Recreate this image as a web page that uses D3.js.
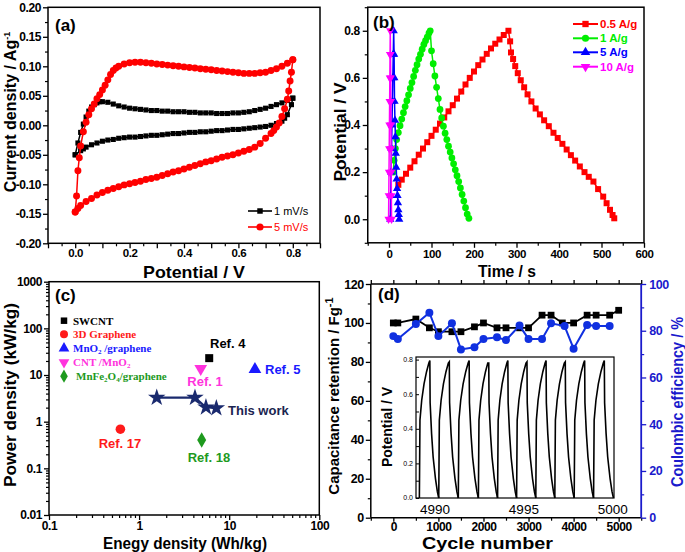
<!DOCTYPE html>
<html><head><meta charset="utf-8">
<script src="https://cdn.jsdelivr.net/npm/d3@7"></script>
<style>body{margin:0;background:#fff}svg{display:block}</style></head>
<body><svg id="chart" width="685" height="552"></svg>
<script>
// ---------------- DATA ----------------
// (a) CV curves, [potential V, current A/g]
const cv1Forward = [[0,-0.05],[0.01,-0.03],[0.02,-0.012],[0.03,0.002],[0.04,0.014],[0.05,0.024],[0.06,0.031],[0.07,0.035],[0.08,0.038],[0.09,0.04],[0.1,0.04],[0.12,0.039],[0.14,0.036],[0.16,0.033],[0.18,0.031],[0.2,0.029],[0.22,0.028],[0.24,0.027],[0.26,0.026],[0.28,0.025],[0.3,0.025],[0.32,0.024],[0.34,0.024],[0.36,0.023],[0.38,0.023],[0.4,0.023],[0.42,0.022],[0.44,0.022],[0.46,0.021],[0.48,0.021],[0.5,0.021],[0.52,0.02],[0.54,0.02],[0.56,0.02],[0.58,0.021],[0.6,0.021],[0.62,0.022],[0.64,0.023],[0.66,0.025],[0.68,0.027],[0.7,0.029],[0.72,0.032],[0.74,0.035],[0.76,0.038],[0.78,0.042],[0.8,0.046]];
const cv1Reverse = [[0.8,0.046],[0.795,0.035],[0.78,0.018],[0.77,0.012],[0.76,0.007],[0.74,0.003],[0.72,0.0],[0.7,-0.002],[0.68,-0.003],[0.66,-0.004],[0.64,-0.005],[0.62,-0.006],[0.6,-0.007],[0.58,-0.007],[0.56,-0.008],[0.54,-0.009],[0.52,-0.009],[0.5,-0.01],[0.48,-0.011],[0.46,-0.011],[0.44,-0.012],[0.42,-0.012],[0.4,-0.013],[0.38,-0.014],[0.36,-0.014],[0.34,-0.015],[0.32,-0.016],[0.3,-0.017],[0.28,-0.017],[0.26,-0.018],[0.24,-0.019],[0.22,-0.02],[0.2,-0.02],[0.18,-0.021],[0.16,-0.022],[0.14,-0.024],[0.12,-0.025],[0.1,-0.027],[0.08,-0.03],[0.06,-0.033],[0.04,-0.037],[0.03,-0.04],[0.02,-0.043],[0,-0.05]];
const cv5Forward = [[0,-0.147],[0.005,-0.12],[0.01,-0.077],[0.015,-0.055],[0.02,-0.035],[0.03,-0.011],[0.04,0.005],[0.05,0.018],[0.06,0.028],[0.07,0.036],[0.08,0.045],[0.09,0.052],[0.1,0.06],[0.11,0.068],[0.12,0.077],[0.13,0.086],[0.14,0.093],[0.15,0.097],[0.16,0.1],[0.18,0.104],[0.2,0.106],[0.22,0.107],[0.24,0.107],[0.26,0.106],[0.28,0.105],[0.3,0.104],[0.32,0.103],[0.34,0.102],[0.36,0.101],[0.38,0.1],[0.4,0.099],[0.42,0.098],[0.44,0.097],[0.46,0.096],[0.48,0.095],[0.5,0.094],[0.52,0.093],[0.54,0.092],[0.56,0.091],[0.58,0.09],[0.6,0.089],[0.62,0.088],[0.64,0.088],[0.66,0.088],[0.68,0.089],[0.7,0.09],[0.72,0.093],[0.74,0.096],[0.76,0.1],[0.78,0.105],[0.8,0.111]];
const cv5Reverse = [[0.8,0.111],[0.795,0.09],[0.79,0.075],[0.785,0.058],[0.78,0.044],[0.77,0.028],[0.76,0.015],[0.75,0.004],[0.74,-0.003],[0.73,-0.009],[0.72,-0.014],[0.7,-0.022],[0.68,-0.031],[0.66,-0.037],[0.64,-0.041],[0.62,-0.044],[0.6,-0.047],[0.58,-0.05],[0.56,-0.052],[0.54,-0.054],[0.52,-0.057],[0.5,-0.06],[0.48,-0.062],[0.46,-0.065],[0.44,-0.068],[0.42,-0.071],[0.4,-0.074],[0.38,-0.077],[0.36,-0.079],[0.34,-0.082],[0.32,-0.085],[0.3,-0.088],[0.28,-0.09],[0.26,-0.092],[0.24,-0.095],[0.22,-0.097],[0.2,-0.099],[0.18,-0.101],[0.16,-0.104],[0.14,-0.107],[0.12,-0.11],[0.1,-0.114],[0.08,-0.118],[0.06,-0.124],[0.04,-0.129],[0.02,-0.136],[0.01,-0.141],[0,-0.147]];
const aXTicks = [-0.1,0,0.1,0.2,0.3,0.4,0.5,0.6,0.7,0.8,0.9];
const aXLabels = ["","0.0","","0.2","","0.4","","0.6","","0.8",""];
const aYTicks = [-0.2,-0.15,-0.1,-0.05,0,0.05,0.1,0.15,0.2];
const aYLabels = ["-0.20","-0.15","-0.10","-0.05","0.00","0.05","0.10","0.15","0.20"];

// (b) galvanostatic charge/discharge, [time s, potential V]
const gcd05 = [[22,0.146],[30,0.168],[40,0.193],[50,0.219],[60,0.246],[70,0.274],[80,0.3],[90,0.327],[100,0.354],[110,0.38],[120,0.406],[130,0.432],[140,0.458],[150,0.484],[160,0.512],[170,0.542],[180,0.572],[190,0.6],[200,0.627],[210,0.654],[220,0.678],[230,0.702],[240,0.725],[250,0.745],[260,0.763],[270,0.782],[281,0.8],[285,0.755],[287,0.708],[292,0.68],[297,0.65],[303,0.62],[310,0.59],[318,0.56],[326,0.53],[335,0.5],[345,0.47],[355,0.445],[365,0.42],[376,0.395],[387,0.367],[397,0.345],[408,0.32],[418,0.296],[428,0.272],[438,0.249],[449,0.224],[460,0.2],[470,0.18],[481,0.16],[492,0.128],[504,0.096],[512,0.068],[520,0.04],[526,0.018],[530,0.004]];
const gcd1 = [[10,0.2],[12,0.25],[15,0.3],[18,0.338],[22,0.368],[26,0.397],[30,0.425],[34,0.452],[38,0.478],[42,0.503],[46,0.528],[50,0.555],[54,0.58],[58,0.606],[62,0.632],[66,0.656],[70,0.68],[74,0.7],[78,0.722],[82,0.742],[86,0.758],[90,0.773],[94,0.79],[97,0.8],[100,0.715],[104,0.66],[108,0.608],[112,0.56],[116,0.512],[120,0.466],[124,0.43],[128,0.395],[132,0.365],[136,0.338],[140,0.31],[144,0.285],[148,0.26],[152,0.235],[156,0.21],[160,0.185],[164,0.16],[168,0.133],[172,0.105],[176,0.077],[180,0.049],[184,0.022],[188,0.004]];
const gcd5 = [[3,0],[4,0.1],[5,0.2],[6,0.3],[7,0.4],[8,0.5],[9,0.6],[10,0.7],[11,0.8],[12,0.7],[12.5,0.6],[13,0.5],[14,0.42],[15,0.35],[16,0.28],[17,0.22],[18,0.17],[19,0.13],[20,0.1],[21,0.07],[22,0.04],[23,0.02],[24,0]];
const gcd10 = [[-1,0],[-0.5,0.1],[0,0.2],[0.5,0.3],[1,0.4],[1.5,0.5],[2,0.6],[2.5,0.7],[3,0.8],[3.5,0.7],[4,0.6],[4.3,0.5],[4.6,0.4],[5,0.3],[5.3,0.2],[5.6,0.1],[6,0]];
const bLegend = ["0.5 A/g","1 A/g","5 A/g","10 A/g"];
const bXTicks = [0,100,200,300,400,500,600];
const bYTicks = [0,0.2,0.4,0.6,0.8];

// (c) Ragone plot
const refEnergy = [6.0, 0.62, 19.3, 4.83, 4.95];
const refPower  = [23, 0.69, 13.3, 13.7, 0.405];
const refLabels = ["Ref. 4","Ref. 17","Ref. 5","Ref. 1","Ref. 18"];
const refNames  = ["SWCNT","3D Graphene","MnO2 /graphene","CNT /MnO2","MnFe2O4/graphene"];
const thisWorkEnergy = [1.57, 4.17, 5.52, 7.2];
const thisWorkPower  = [3.27, 3.27, 2.04, 1.95];
const cXTicks = [0.1,1,10,100];
const cXLabels = ["0.1","1","10","100"];
const cYTicks = [0.01,0.1,1,10,100,1000];
const cYLabels = ["0.01","0.1","1","10","100","1000"];

// (d) cycling
const retCycles = [0,100,500,800,1000,1300,1500,1800,2000,2300,2500,2800,3000,3300,3500,3750,4000,4300,4500,4800,5000];
const retention = [100,100,102,97.5,95.5,95.5,95.5,98,100,97.5,97.5,97.5,97.5,104,104,100,100,104,104,104,106.5];
const effCycles = [0,100,500,800,1000,1300,1500,1800,2000,2300,2500,2800,3000,3300,3500,3800,4000,4300,4500,4800];
const efficiency = [77.7,76.5,82.9,87.7,77.7,83.2,72,72.9,76.5,77.2,76,82.2,76.5,76.5,83.2,82,72.3,82.5,82,82];
const dXTicks = [0,1000,2000,3000,4000,5000];
const dYLeftTicks = [0,20,40,60,80,100,120];
const dYRightTicks = [0,20,40,60,80,100];
// inset: cycle boundaries (V = 0), peak potentials, and the shape of one cycle
const insetMinima = [4989.12,4990.21,4991.31,4992.44,4993.52,4994.59,4995.67,4996.74,4997.83,4998.92,5000.04];
const insetPeaks = [0.795,0.787,0.795,0.78,0.795,0.787,0.795,0.787,0.795,0.795];
const cyclePhase = [0,0.03,0.12,0.24,0.37,0.49,0.54,0.555,0.63,0.71,0.83,0.93,1.0];
const cycleV     = [0,0.45,0.565,0.66,0.73,0.78,null,0.55,0.372,0.237,0.112,0.035,0];
const insetXTicks = [4990,4995,5000];
const insetYTicks = [0,0.2,0.4,0.6,0.8];

// ---------------- DRAWING ----------------
const svg = d3.select("#chart");
svg.append("rect").attr("width",685).attr("height",552).attr("fill","#fff");
const FONT = "'Liberation Sans', Arial, Helvetica, sans-serif";
const SERIF = "'Liberation Serif', 'Times New Roman', serif";

function axis(g, scale, orient, pos, major, labels, minor, opt={}) {
  const color = opt.color || "#000";
  const mk = {bottom:d3.axisBottom, top:d3.axisTop, left:d3.axisLeft, right:d3.axisRight}[orient];
  const tr = (orient==="bottom"||orient==="top") ? `translate(0,${pos})` : `translate(${pos},0)`;
  if (minor && minor.length) {
    const gm = g.append("g").attr("transform",tr)
      .call(mk(scale).tickValues(minor).tickSize(opt.minorLen||3).tickFormat(""));
    gm.select(".domain").remove();
    gm.selectAll("line").attr("stroke",color).attr("stroke-width",1.2);
  }
  const ga = g.append("g").attr("transform",tr)
    .call(mk(scale).tickValues(major).tickSize(opt.majorLen||5).tickPadding(opt.pad||3)
      .tickFormat((d,i)=> labels ? labels[i] : ""));
  ga.select(".domain").remove();
  ga.selectAll("line").attr("stroke",color).attr("stroke-width",1.3);
  ga.selectAll("text").attr("fill",color).style("font-family",FONT)
    .style("font-size",(opt.fs||12)+"px").style("font-weight",opt.weight||"bold")
    .style("letter-spacing",(opt.ls!==undefined?opt.ls:-0.4)+"px");
  return ga;
}
function frame(g, x0, y0, x1, y1) {
  g.append("rect").attr("x",x0).attr("y",y0).attr("width",x1-x0).attr("height",y1-y0)
    .attr("fill","none").attr("stroke","#000").attr("stroke-width",1.5);
}
function markers(g, pts, sx, sy, type, size, color, rot) {
  const sym = d3.symbol().type(type).size(size);
  g.selectAll(null).data(pts).enter().append("path").attr("d",sym)
    .attr("transform",d=>`translate(${sx(d[0])},${sy(d[1])})${rot?" rotate(180)":""}`)
    .attr("fill",color);
}
function lineOf(g, pts, sx, sy, color, w) {
  g.append("path").datum(pts).attr("fill","none").attr("stroke",color).attr("stroke-width",w||1.4)
    .attr("d",d3.line().x(d=>sx(d[0])).y(d=>sy(d[1])));
}
function title(g, txt, x, y, size, opts={}) {
  const t = g.append("text").attr("transform",`translate(${x},${y})${opts.rot?" rotate(-90)":""}`)
    .attr("text-anchor",opts.anchor||"middle").attr("dy","0.35em")
    .style("font-family",opts.family||FONT).style("font-weight",opts.weight||"bold")
    .style("font-size",size+"px").attr("fill",opts.color||"#000");
  if (opts.len) t.attr("textLength",opts.len).attr("lengthAdjust","spacingAndGlyphs");
  return t.text(txt);
}

// ===== Panel (a) =====
{
  const g = svg.append("g");
  const x = d3.scaleLinear().domain([-0.1,0.9]).range([48,320]);
  const y = d3.scaleLinear().domain([-0.2,0.2]).range([243.3,7.3]);
  lineOf(g, cv1Forward.concat(cv1Reverse), x, y, "#000", 1.5);
  markers(g, cv1Forward.concat(cv1Reverse), x, y, d3.symbolSquare, 26, "#000");
  lineOf(g, cv5Forward.concat(cv5Reverse), x, y, "#ff0000", 1.5);
  markers(g, cv5Forward.concat(cv5Reverse), x, y, d3.symbolCircle, 38, "#ff0000");
  const xMinor = [-0.05,0.05,0.15,0.25,0.35,0.45,0.55,0.65,0.75,0.85];
  const yMinor = [-0.175,-0.125,-0.075,-0.025,0.025,0.075,0.125,0.175];
  axis(g, x, "bottom", 243.3, aXTicks, aXLabels, xMinor, {pad:1, fs:11.5});
  axis(g, y, "left", 48, aYTicks, aYLabels, yMinor, {pad:2});
  frame(g, 48, 7.3, 320, 243.3);
  const ly = [211, 227], lc = ["#000","#ff0000"], ln = ["1 mV/s","5 mV/s"];
  [0,1].forEach(i=>{
    g.append("line").attr("x1",248).attr("x2",272).attr("y1",ly[i]).attr("y2",ly[i]).attr("stroke",lc[i]).attr("stroke-width",1.6);
    g.append("path").attr("d",d3.symbol().type(i?d3.symbolCircle:d3.symbolSquare).size(i?40:30)())
      .attr("transform",`translate(260,${ly[i]})`).attr("fill",lc[i]);
    g.append("text").attr("x",274).attr("y",ly[i]).attr("dy","0.35em").text(ln[i])
      .style("font-family",FONT).style("font-size","11px").attr("fill",lc[i]);
  });
  title(g,"(a)",55,25,17,{anchor:"start"});
  const yt = g.append("text").attr("transform","translate(10.5,112) rotate(-90)").attr("text-anchor","middle")
    .attr("dy","0.35em").style("font-family",FONT).style("font-weight","bold").style("font-size","16px");
  yt.append("tspan").text("Current density / Ag");
  yt.append("tspan").attr("dy","-6").style("font-size","9px").text("-1");
  title(g,"Potential / V",194,272,17,{len:102});
}

// ===== Panel (b) =====
{
  const g = svg.append("g");
  const x = d3.scaleLinear().domain([-50,600]).range([367.75,644]);
  const y = d3.scaleLinear().domain([-0.1,0.9]).range([242.8,7.2]);
  const series = [
    {d:gcd05, c:"#ff0000", t:d3.symbolSquare, s:36, r:false},
    {d:gcd1,  c:"#00ee00", t:d3.symbolCircle, s:36, r:false},
    {d:gcd5,  c:"#0000ff", t:d3.symbolTriangle, s:30, r:false},
    {d:gcd10, c:"#ff00ff", t:d3.symbolTriangle, s:30, r:true}];
  series.forEach(s=>{ lineOf(g, s.d, x, y, s.c, 1.5); markers(g, s.d, x, y, s.t, s.s, s.c, s.r); });
  axis(g, x, "bottom", 242.8, bXTicks, bXTicks.map(String), [-50,50,150,250,350,450,550], {pad:2, fs:11.5});
  axis(g, y, "left", 367.75, bYTicks, bYTicks.map(v=>v.toFixed(1)), [-0.1,0.1,0.3,0.5,0.7,0.9], {pad:3});
  frame(g, 367.75, 7.2, 644, 242.8);
  const ly = [24,38.3,52.3,66.7];
  series.forEach((s,i)=>{
    g.append("line").attr("x1",573).attr("x2",598).attr("y1",ly[i]).attr("y2",ly[i]).attr("stroke",s.c).attr("stroke-width",2);
    g.append("path").attr("d",d3.symbol().type(s.t).size(40)()).attr("fill",s.c)
      .attr("transform",`translate(585.5,${ly[i]})${s.r?" rotate(180)":""}`);
    g.append("text").attr("x",600).attr("y",ly[i]).attr("dy","0.35em").text(bLegend[i])
      .style("font-family",FONT).style("font-weight","bold").style("font-size","11.5px").attr("fill",s.c);
  });
  title(g,"(b)",373,22,17,{anchor:"start"});
  title(g,"Potential / V",340,132,17,{rot:true,len:99});
  title(g,"Time / s",507,271,17,{len:58});
}

// ===== Panel (c) =====
{
  const g = svg.append("g");
  const x = d3.scaleLog().domain([0.1,100]).range([49,319.3]);
  const y = d3.scaleLog().domain([0.01,1000]).range([515,281.7]);
  const minorX = [], minorY = [];
  [0.1,1,10].forEach(b=>{ for(let k=2;k<10;k++) minorX.push(b*k); });
  [0.01,0.1,1,10,100].forEach(b=>{ for(let k=2;k<10;k++) minorY.push(b*k); });
  axis(g, x, "bottom", 515, cXTicks, cXLabels, minorX, {pad:1, fs:12});
  axis(g, y, "left", 49, cYTicks, cYLabels, minorY, {pad:2, fs:12});
  frame(g, 49, 281.7, 319.3, 515);
  const types = [d3.symbolSquare, d3.symbolCircle, d3.symbolTriangle, d3.symbolTriangle, d3.symbolDiamond];
  const sizes = [64, 72, 70, 70, 70];
  const rots = [false,false,false,true,false];
  const cols = ["#000000","#ff1a1a","#1a1aff","#ff33dd","#1e9a1e"];
  refEnergy.forEach((e,i)=>{
    g.append("path").attr("d",d3.symbol().type(types[i]).size(sizes[i])()).attr("fill",cols[i])
      .attr("transform",`translate(${x(e)},${y(refPower[i])})${rots[i]?" rotate(180)":""}`);
  });
  const lab = [
    {x:210, y:343, a:"start"}, {x:120, y:443, a:"middle"}, {x:265, y:369, a:"start"},
    {x:205, y:381, a:"middle"}, {x:209, y:457, a:"middle"}];
  refLabels.forEach((t,i)=>{
    g.append("text").attr("x",lab[i].x).attr("y",lab[i].y).attr("dy","0.35em").attr("text-anchor",lab[i].a)
      .text(t).style("font-family",FONT).style("font-weight","bold").style("font-size","13px").attr("fill",cols[i]);
  });
  const tw = thisWorkEnergy.map((e,i)=>[e,thisWorkPower[i]]);
  lineOf(g, tw, x, y, "#1a2a6e", 2.2);
  markers(g, tw, x, y, d3.symbolStar, 95, "#1a2a6e");
  g.append("text").attr("x",228).attr("y",410).attr("dy","0.35em").text("This work")
    .style("font-family",FONT).style("font-weight","bold").style("font-size","13px").attr("fill","#1a2450");
  const ly = [320.7,334.3,348.3,362.3,376.2];
  ly.forEach((yy,i)=>{
    g.append("path").attr("d",d3.symbol().type(types[i]).size(i===0?42:50)()).attr("fill",cols[i])
      .attr("transform",`translate(64,${yy})${rots[i]?" rotate(180)":""}`);
    // baseline placed explicitly so tspans keep it
    const t = g.append("text").attr("x", i===4?76:73).attr("y",yy+3.9)
      .style("font-family",SERIF).style("font-weight","bold").style("font-size","11px").attr("fill",cols[i]);
    const name = refNames[i];
    if (i>=2) {
      let afterSub = false;
      name.split(/(\d)/).forEach(part=>{
        if (part==="") return;
        if (/^\d$/.test(part)) { t.append("tspan").attr("dy","2").style("font-size","7px").text(part); afterSub = true; }
        else { const ts = t.append("tspan").text(part); if (afterSub) ts.attr("dy","-2"); afterSub = false; }
      });
    } else t.text(name);
  });
  title(g,"(c)",55,295,17,{anchor:"start"});
  title(g,"Power density (kW/kg)",10.5,395,17,{rot:true,len:184});
  title(g,"Enegy density (Wh/kg)",185,543.5,16,{len:164});
}

// ===== Panel (d) =====
{
  const g = svg.append("g");
  const x = d3.scaleLinear().domain([-500,5500]).range([370.8,641.2]);
  const yL = d3.scaleLinear().domain([0,120]).range([517.7,284]);
  const yR = d3.scaleLinear().domain([0,100]).range([517.7,284]);
  const blue = "#1a1acc";
  axis(g, x, "bottom", 517.7, dXTicks, dXTicks.map(String), [-500,500,1500,2500,3500,4500,5500], {pad:1, fs:12, majorLen:4});
  axis(g, x, "top", 284, [-500,0,500,1000,1500,2000,2500,3000,3500,4000,4500,5000,5500], null, [], {majorLen:4});
  axis(g, yL, "left", 370.8, dYLeftTicks, dYLeftTicks.map(String), [10,30,50,70,90,110], {pad:2, fs:12.5});
  axis(g, yR, "right", 641.2, dYRightTicks, dYRightTicks.map(String), [10,30,50,70,90], {pad:3, fs:12.5, color:blue});
  g.append("line").attr("x1",370.8).attr("x2",641.2).attr("y1",517.7).attr("y2",517.7).attr("stroke","#000").attr("stroke-width",1.5);
  g.append("line").attr("x1",370.8).attr("x2",641.2).attr("y1",284).attr("y2",284).attr("stroke","#000").attr("stroke-width",1.5);
  g.append("line").attr("x1",370.8).attr("x2",370.8).attr("y1",284).attr("y2",517.7).attr("stroke","#000").attr("stroke-width",1.5);
  g.append("line").attr("x1",641.2).attr("x2",641.2).attr("y1",284).attr("y2",517.7).attr("stroke",blue).attr("stroke-width",1.8);
  const ret = retCycles.map((c,i)=>[c,retention[i]]);
  const eff = effCycles.map((c,i)=>[c,efficiency[i]]);
  lineOf(g, ret, x, yL, "#000", 1.8);
  markers(g, ret, x, yL, d3.symbolSquare, 46, "#000");
  lineOf(g, eff, x, yR, "#1030e0", 2);
  markers(g, eff, x, yR, d3.symbolCircle, 50, "#1030e0");
  // inset
  const ix = d3.scaleLinear().domain([4988.93,5000.07]).range([416,614]);
  const iy = d3.scaleLinear().domain([0,0.815]).range([498,357]);
  g.append("rect").attr("x",416).attr("y",357).attr("width",198).attr("height",141).attr("fill","#fff");
  const ig = g.append("g");
  for (let k=0;k<insetPeaks.length;k++) {
    const x0 = insetMinima[k], w = insetMinima[k+1]-insetMinima[k];
    const pts = cyclePhase.map((p,j)=>[x0+p*w, cycleV[j]===null?insetPeaks[k]:cycleV[j]]);
    ig.append("path").datum(pts).attr("fill","none").attr("stroke","#000").attr("stroke-width",1.6)
      .attr("d",d3.line().x(d=>ix(d[0])).y(d=>iy(d[1])));
  }
  const iax = ig.append("g").attr("transform","translate(416,0)")
    .call(d3.axisRight(iy).tickValues([0,0.1,0.2,0.3,0.4,0.5,0.6,0.7,0.8]).tickSize(3).tickFormat(""));
  iax.select(".domain").remove();
  iax.selectAll("line").attr("stroke","#000");
  insetYTicks.forEach(v=>{
    ig.append("text").attr("x",413).attr("y",iy(v)).attr("dy","0.35em").attr("text-anchor","end")
      .text(v.toFixed(1)).style("font-family",FONT).style("font-size","7px");
  });
  insetXTicks.forEach(v=>{
    ig.append("text").attr("x",ix(v)).attr("y",509.5).attr("dy","0.35em").attr("text-anchor","middle")
      .text(String(v)).style("font-family",FONT).style("font-size","13.5px");
  });
  ig.append("rect").attr("x",416).attr("y",357).attr("width",198).attr("height",141)
    .attr("fill","none").attr("stroke","#000").attr("stroke-width",1.2);
  title(ig,"Potential / V",387,427,14,{rot:true});
  title(g,"(d)",378,294,17,{anchor:"start"});
  const yt = g.append("text").attr("transform","translate(334,396) rotate(-90)").attr("text-anchor","middle")
    .attr("dy","0.35em").style("font-family",FONT).style("font-weight","bold").style("font-size","15px");
  yt.append("tspan").text("Capacitance retention / Fg");
  yt.append("tspan").attr("dy","-6").style("font-size","11px").text("-1");
  title(g,"Coulombic efficiency / %",677,402,16,{rot:true,len:170,color:blue});
  title(g,"Cycle number",487.5,543,16.5,{len:131});
}
</script></body></html>
